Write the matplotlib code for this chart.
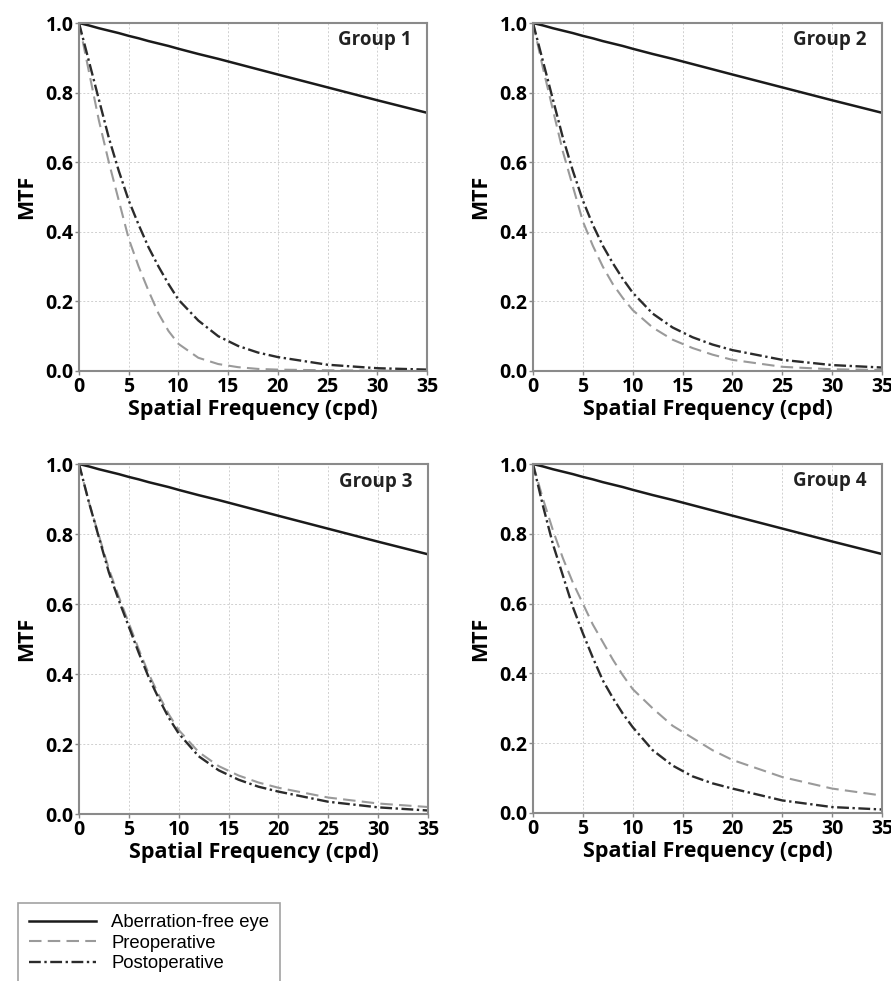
import matplotlib.pyplot as plt
from matplotlib.lines import Line2D

# spatial frequency sample points (cpd)
freq = [0, 1, 2, 3, 4, 5, 6, 7, 8, 9, 10, 12, 14, 16, 18, 20, 25, 30, 35]

# aberration-free eye (same in all panels)
aberration_free = [1.0, 0.993, 0.985, 0.978, 0.971, 0.963, 0.956, 0.948, 0.941, 0.934,
                   0.926, 0.911, 0.897, 0.882, 0.867, 0.852, 0.815, 0.778, 0.742]

# preoperative MTF per group
preop_g1 = [1.0, 0.86, 0.72, 0.60, 0.49, 0.38, 0.30, 0.23, 0.165, 0.115,
            0.078, 0.038, 0.020, 0.011, 0.006, 0.004, 0.002, 0.001, 0.0]
preop_g2 = [1.0, 0.87, 0.75, 0.63, 0.53, 0.43, 0.36, 0.30, 0.25, 0.21,
            0.175, 0.125, 0.090, 0.066, 0.047, 0.032, 0.012, 0.005, 0.003]
preop_g3 = [1.0, 0.89, 0.795, 0.70, 0.62, 0.545, 0.47, 0.40, 0.34, 0.285,
            0.24, 0.177, 0.137, 0.110, 0.090, 0.075, 0.047, 0.030, 0.020]
preop_g4 = [1.0, 0.90, 0.81, 0.73, 0.66, 0.60, 0.54, 0.49, 0.44, 0.395,
            0.355, 0.30, 0.25, 0.215, 0.18, 0.152, 0.103, 0.070, 0.050]

# postoperative MTF per group
postop_g1 = [1.0, 0.89, 0.78, 0.67, 0.575, 0.49, 0.42, 0.355, 0.30, 0.25,
             0.205, 0.145, 0.100, 0.072, 0.053, 0.040, 0.018, 0.008, 0.004]
postop_g2 = [1.0, 0.89, 0.78, 0.67, 0.575, 0.49, 0.42, 0.36, 0.31, 0.265,
             0.225, 0.165, 0.125, 0.097, 0.076, 0.060, 0.032, 0.017, 0.010]
postop_g3 = [1.0, 0.89, 0.79, 0.69, 0.61, 0.535, 0.46, 0.39, 0.33, 0.275,
             0.23, 0.165, 0.125, 0.098, 0.078, 0.064, 0.035, 0.019, 0.010]
postop_g4 = [1.0, 0.88, 0.77, 0.68, 0.59, 0.515, 0.445, 0.38, 0.33, 0.285,
             0.246, 0.18, 0.136, 0.105, 0.085, 0.070, 0.036, 0.017, 0.010]

groups = ["Group 1", "Group 2", "Group 3", "Group 4"]
preop = [preop_g1, preop_g2, preop_g3, preop_g4]
postop = [postop_g1, postop_g2, postop_g3, postop_g4]

x_ticks = [0, 5, 10, 15, 20, 25, 30, 35]
y_ticks = [0.0, 0.2, 0.4, 0.6, 0.8, 1.0]

bold_font = ["Open Sans", "DejaVu Sans"]

fig = plt.figure(figsize=(8.91, 9.81), dpi=100)

# axes rectangles (left, bottom, width, height) in figure fractions
W, H = 8.91 * 100, 9.81 * 100
boxes = [
    (79 / W, 1 - 371 / H, 348 / W, 348 / H),
    (533 / W, 1 - 371 / H, 349 / W, 348 / H),
    (79 / W, 1 - 814 / H, 349 / W, 350 / H),
    (533 / W, 1 - 813 / H, 349 / W, 349 / H),
]

for i in range(4):
    ax = fig.add_axes(boxes[i])
    ax.plot(freq, aberration_free, color="#1a1a1a", lw=1.8, ls="-")
    ax.plot(freq, preop[i], color="#9a9a9a", lw=1.5, ls=(0, (6, 3)))
    ax.plot(freq, postop[i], color="#2b2b2b", lw=1.7, ls=(0, (5, 1.5, 1, 1.5)))

    ax.set_xlim(0, 35)
    ax.set_ylim(0, 1.0)
    ax.set_xticks(x_ticks)
    ax.set_yticks(y_ticks)
    ax.set_xticklabels([str(t) for t in x_ticks], family=bold_font, weight="bold", fontsize=14)
    ax.set_yticklabels([f"{t:.1f}" for t in y_ticks], family=bold_font, weight="bold", fontsize=14)
    ax.tick_params(length=3, width=1, color="#888888", pad=1)
    ax.grid(True, color="#d0d0d0", ls=(0, (2, 2)), lw=0.7)
    for s in ax.spines.values():
        s.set_color("#8a8a8a")
        s.set_linewidth(1.5)

    ax.set_xlabel("Spatial Frequency (cpd)", family=bold_font, weight="bold",
                  fontsize=15.5, labelpad=2)
    ax.set_ylabel("MTF", family=bold_font, weight="bold", fontsize=15.5, labelpad=6)
    ax.text(0.955, 0.95, groups[i], transform=ax.transAxes, ha="right", va="center",
            family=bold_font, weight="bold", fontsize=13.5, color="#222222")

handles = [
    Line2D([], [], color="#1a1a1a", lw=1.8, ls="-"),
    Line2D([], [], color="#9a9a9a", lw=1.5, ls=(0, (6, 3))),
    Line2D([], [], color="#2b2b2b", lw=1.7, ls=(0, (5, 1.5, 1, 1.5))),
]
labels = ["Aberration-free eye", "Preoperative", "Postoperative"]
leg = fig.legend(handles, labels, loc="upper left", bbox_to_anchor=(18 / W, 1 - 903 / H),
                 prop={"family": ["Liberation Sans", "DejaVu Sans"], "size": 13.3},
                 frameon=True, fancybox=False, handlelength=3.6, handletextpad=0.85,
                 labelspacing=0.2, borderpad=0.6, borderaxespad=0)
leg.get_frame().set_edgecolor("#8a8a8a")
leg.get_frame().set_linewidth(1.2)

fig.savefig("out.png", dpi=100)
